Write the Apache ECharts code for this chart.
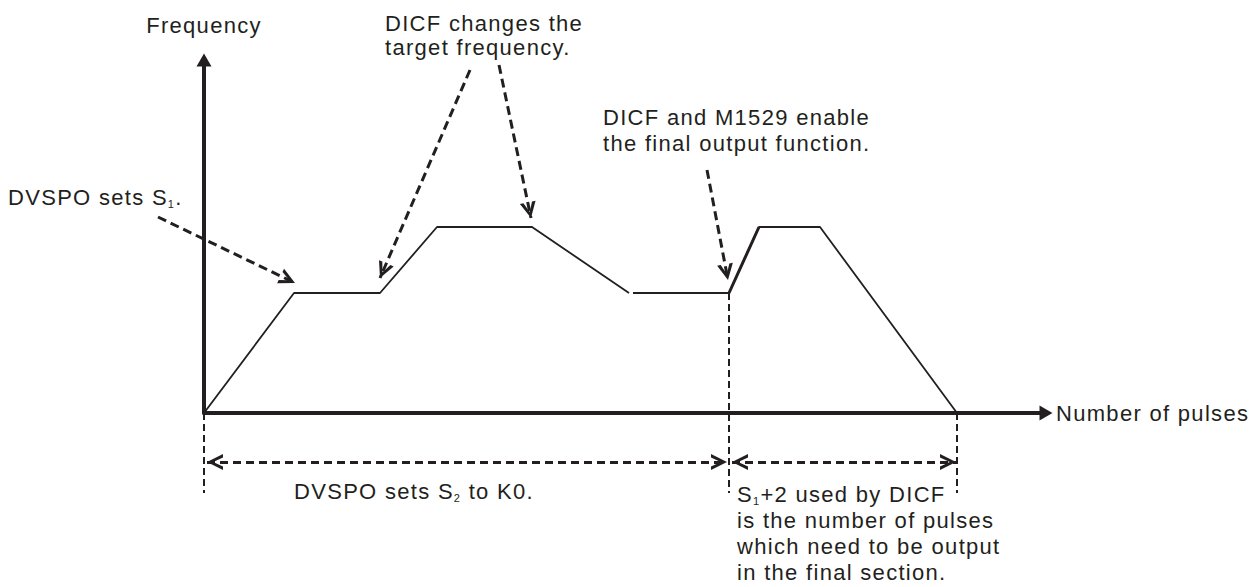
<!DOCTYPE html>
<html>
<head>
<meta charset="utf-8">
<title>DICF final output</title>
<script src="https://cdn.jsdelivr.net/npm/echarts@6.0.0/dist/echarts.min.js"></script>
<style>
  html, body { margin: 0; padding: 0; background: #ffffff; }
  #myChart { width: 1258px; height: 587px; }
  /* the manual's labels are set with loose tracking */
  #myChart text { letter-spacing: 1.3px; }
</style>
</head>
<body>
<div id="myChart"></div>
<script>
// x = number of pulses, y = frequency (arbitrary units)
const pulses = [0, 90, 176, 233, 328, 425, 427, 429, 525, 555, 616, 753];
const freq = [0, 120, 120, 186, 186, 120, null, 120, 120, 186, 186, 0];
// the rise where DICF + M1529 start the final section is drawn heavier
const finalRise = [8, 9];

// dashed extension lines under the axis
const dimMarks = [0, 525, 753];
const dimTops = [0, 120, 0];
const dimBottom = -80;
// double headed dimension arrows
const dimLevel = -49;
const dimSpans = [[3, 523], [528, 752]];

// annotation arrows, tail -> head
const noteTails = [[-46, 196], [266, 343], [295, 348], [503, 243]];
const noteHeads = [[91, 130], [176, 135], [327, 195], [524, 133]];

const INK = '#231f20';
const FONT = '"Liberation Sans", Arial, sans-serif';
const TRACK = 1.3; // same as the css letter-spacing

// measure with the same tracking so rich text pieces (subscripts) line up
const measureCtx = document.createElement('canvas').getContext('2d');
measureCtx.letterSpacing = TRACK + 'px';
echarts.setPlatformAPI({
  measureText: function (text, font) {
    measureCtx.font = font || '12px sans-serif';
    return measureCtx.measureText(text);
  }
});

// open arrow head, pointing up, tip in the centre of its box
const CHEVRON = 'path://M10,0M10,16L18,32L14.4,32L10,22.2L5.6,32L2,32Z';

const sub = { fontSize: 11, fontFamily: FONT, fill: INK, verticalAlign: 'bottom', lineHeight: 14 };

function label(text, left, top, lineHeight) {
  return {
    type: 'text',
    left: left,
    top: top,
    silent: true,
    style: {
      text: text,
      fontSize: 22,
      fontFamily: FONT,
      fill: INK,
      lineHeight: lineHeight,
      rich: { s: sub }
    }
  };
}

const profile = pulses.map(function (p, i) { return [p, freq[i]]; });

const myChart = echarts.init(document.getElementById('myChart'), null, { renderer: 'svg' });

const option = {
  animation: false,
  backgroundColor: '#ffffff',
  grid: { left: 204, top: 60, width: 842, height: 353 },
  xAxis: {
    type: 'value',
    min: 0,
    max: 842,
    name: 'Number of pulses',
    nameLocation: 'end',
    nameGap: 10,
    nameTextStyle: { color: INK, fontSize: 22, fontFamily: FONT, padding: [6, 0, 0, 0] },
    axisLine: {
      show: true,
      onZero: true,
      symbol: ['none', 'triangle'],
      symbolSize: [15, 13],
      lineStyle: { color: INK, width: 4 }
    },
    axisTick: { show: false },
    axisLabel: { show: false },
    splitLine: { show: false }
  },
  yAxis: {
    type: 'value',
    min: 0,
    max: 353,
    name: 'Frequency',
    nameLocation: 'end',
    nameGap: 24,
    nameTextStyle: { color: INK, fontSize: 22, fontFamily: FONT, lineHeight: 22 },
    axisLine: {
      show: true,
      onZero: true,
      symbol: ['none', 'triangle'],
      symbolSize: [15, 13],
      lineStyle: { color: INK, width: 4 }
    },
    axisTick: { show: false },
    axisLabel: { show: false },
    splitLine: { show: false }
  },
  graphic: [
    label('DICF changes the\ntarget frequency.', 385, 11, 24),
    label('DICF and M1529 enable\nthe final output function.', 603, 104, 26),
    label('DVSPO sets S{s|1}.', 8, 184, 26),
    label('DVSPO sets S{s|2} to K0.', 294, 478, 26),
    label('S{s|1}+2 used by DICF\nis the number of pulses\nwhich need to be output\nin the final section.', 737, 481, 26.2)
  ],
  series: [
    {
      type: 'line',
      data: profile,
      symbol: 'none',
      showSymbol: false,
      connectNulls: false,
      clip: false,
      silent: true,
      lineStyle: { color: INK, width: 1.8 }
    },
    {
      type: 'line',
      data: finalRise.map(function (i) { return profile[i]; }),
      symbol: 'none',
      showSymbol: false,
      clip: false,
      silent: true,
      lineStyle: { color: INK, width: 3 }
    },
    {
      // extension lines
      type: 'lines',
      coordinateSystem: 'cartesian2d',
      clip: false,
      silent: true,
      symbol: 'none',
      lineStyle: { color: INK, width: 2, type: [7, 4], opacity: 1, curveness: 0 },
      data: dimMarks.map(function (p, i) {
        return { coords: [[p, dimTops[i]], [p, dimBottom]] };
      })
    },
    {
      // dimension arrows
      type: 'lines',
      coordinateSystem: 'cartesian2d',
      clip: false,
      silent: true,
      symbol: [CHEVRON, CHEVRON],
      symbolSize: [[16, 32], [16, 32]],
      lineStyle: { color: INK, width: 3, type: [8, 5], opacity: 1, curveness: 0 },
      data: dimSpans.map(function (s) {
        return { coords: [[s[0], dimLevel], [s[1], dimLevel]] };
      })
    },
    {
      // annotation arrows
      type: 'lines',
      coordinateSystem: 'cartesian2d',
      clip: false,
      silent: true,
      symbol: ['none', CHEVRON],
      symbolSize: [0, [16, 32]],
      lineStyle: { color: INK, width: 3, type: [9, 5], opacity: 1, curveness: 0 },
      data: noteTails.map(function (t, i) {
        return { coords: [t, noteHeads[i]] };
      })
    }
  ]
};

myChart.setOption(option);
window.addEventListener('resize', function () {
  myChart.resize();
});
</script>
</body>
</html>
